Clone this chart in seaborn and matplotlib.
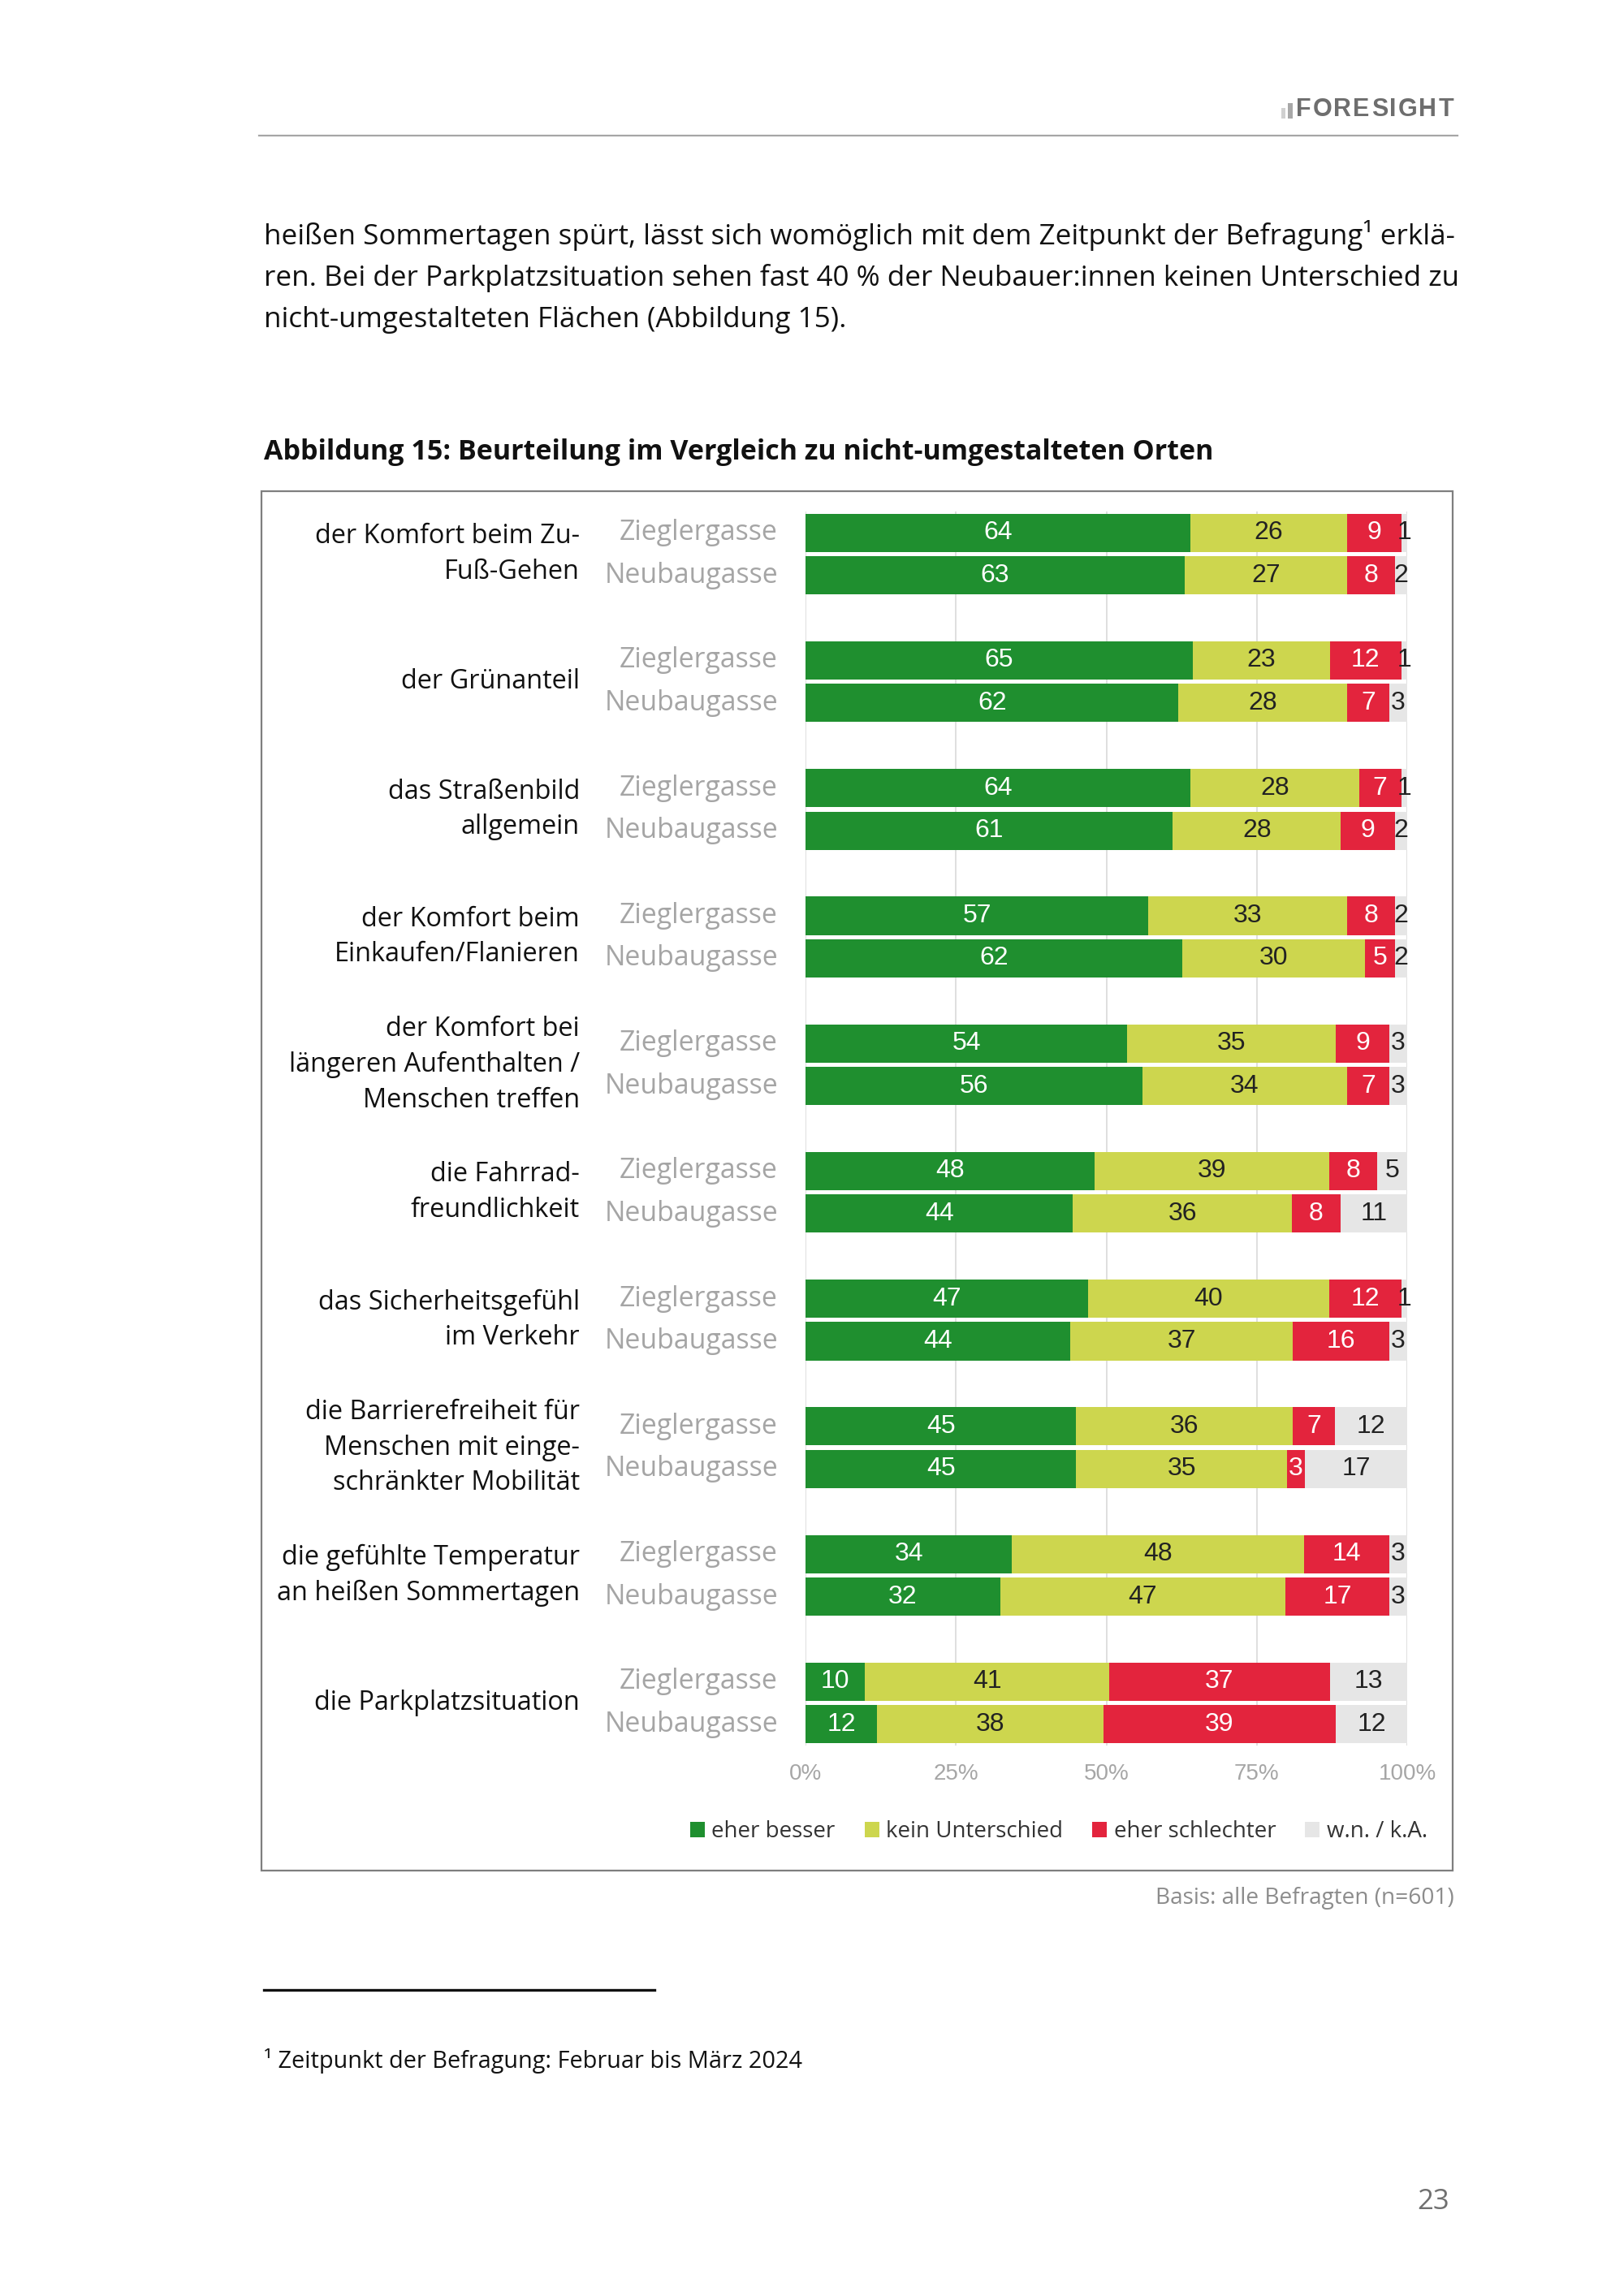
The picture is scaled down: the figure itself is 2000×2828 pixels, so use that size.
"""Abbildung 15: Beurteilung im Vergleich zu nicht-umgestalteten Orten"""
import matplotlib
matplotlib.use("Agg")
import matplotlib.pyplot as plt
import matplotlib.transforms as mtransforms
from matplotlib.patches import Patch, Rectangle
from matplotlib.lines import Line2D
import pandas as pd
import seaborn as sns

categories = [
    "der Komfort beim Zu-\nFuß-Gehen",
    "der Grünanteil",
    "das Straßenbild\nallgemein",
    "der Komfort beim\nEinkaufen/Flanieren",
    "der Komfort bei\nlängeren Aufenthalten /\nMenschen treffen",
    "die Fahrrad-\nfreundlichkeit",
    "das Sicherheitsgefühl\nim Verkehr",
    "die Barrierefreiheit für\nMenschen mit einge-\nschränkter Mobilität",
    "die gefühlte Temperatur\nan heißen Sommertagen",
    "die Parkplatzsituation",
]
streets = ["Zieglergasse", "Neubaugasse"]
answers = ["eher besser", "kein Unterschied", "eher schlechter", "w.n. / k.A."]

besser_z = [64, 65, 64, 57, 54, 48, 47, 45, 34, 10]
besser_n = [63, 62, 61, 62, 56, 44, 44, 45, 32, 12]
kein_z = [26, 23, 28, 33, 35, 39, 40, 36, 48, 41]
kein_n = [27, 28, 28, 30, 34, 36, 37, 35, 47, 38]
schlechter_z = [9, 12, 7, 8, 9, 8, 12, 7, 14, 37]
schlechter_n = [8, 7, 9, 5, 7, 8, 16, 3, 17, 39]
wnka_z = [1, 1, 1, 2, 3, 5, 1, 12, 3, 13]
wnka_n = [2, 3, 2, 2, 3, 11, 3, 17, 3, 12]

x_ticks = [0, 25, 50, 75, 100]
x_tick_labels = ["0%", "25%", "50%", "75%", "100%"]

colors = ["#1f8f2f", "#cdd64e", "#e3243d", "#e6e6e6"]
text_colors = ["white", "#222222", "white", "#222222"]

# long table: one row per bar, ypos = 3 slots per group (2 bars + gap)
rows = []
series = {
    "Zieglergasse": [besser_z, kein_z, schlechter_z, wnka_z],
    "Neubaugasse": [besser_n, kein_n, schlechter_n, wnka_n],
}
for g, cat in enumerate(categories):
    for r, street in enumerate(streets):
        vals = [s[g] for s in series[street]]
        total = sum(vals)
        row = {"ypos": g * 3 + r, "street": street, "category": cat}
        right = 0
        for k, v in enumerate(vals):
            share = v * 100 / total
            row[f"val{k}"] = v
            row[f"left{k}"] = right
            right += share
            row[f"right{k}"] = right
        rows.append(row)
df = pd.DataFrame(rows)

plt.rcParams["font.family"] = ["Open Sans", "DejaVu Sans"]
W, H = 2000, 2828
fig = plt.figure(figsize=(10, 14.14), dpi=200)
fig.patch.set_facecolor("white")


def fx(px):
    return px / W


def fy(py):
    return 1 - py / H


ax = fig.add_axes([fx(992), fy(2150), fx(1733) - fx(992), fy(630) - fy(2150)])

for k in reversed(range(4)):
    sns.barplot(data=df, x=f"right{k}", y="ypos", orient="h", native_scale=True,
                color=colors[k], saturation=1, width=0.9, errorbar=None,
                linewidth=0, ax=ax)

ax.set_xlim(0, 100)
ax.set_ylim(28.5, -0.5)
ax.set_xlabel("")
ax.set_ylabel("")
ax.set_yticks([])
ax.set_xticks(x_ticks, x_tick_labels)
ax.tick_params(axis="x", length=0, pad=8, labelsize=10, labelcolor="#a6a6a6")
for lab in ax.get_xticklabels():
    lab.set_family("Liberation Sans")
ax.xaxis.grid(True, color="#d9d9d9", lw=0.6)
ax.set_axisbelow(True)
for s in ax.spines.values():
    s.set_visible(False)

# value labels in the segments
for _, row in df.iterrows():
    for k in range(4):
        cx = (row[f"left{k}"] + row[f"right{k}"]) / 2
        ax.text(cx, row["ypos"], str(row[f"val{k}"]), ha="center", va="center",
                color=text_colors[k], fontsize=11.5, family="Liberation Sans")

# left labels
trans = mtransforms.blended_transform_factory(fig.transFigure, ax.transData)
for g, cat in enumerate(categories):
    ax.text(fx(714), g * 3 + 0.5, cat, transform=trans, ha="right", va="center",
            fontsize=11.7, color="#111111", linespacing=1.42, clip_on=False)
    for r, street in enumerate(streets):
        ax.text(fx(958), g * 3 + r, street, transform=trans, ha="right",
                va="center", fontsize=12.2, color="#a5a5a5", clip_on=False)

# legend
handles = [Patch(facecolor=c, edgecolor="none", label=a) for c, a in zip(colors, answers)]
fig.legend(handles=handles, loc="center", bbox_to_anchor=(fx(1304), fy(2256)), ncol=4,
           frameon=False, handlelength=0.65, handleheight=0.65, handletextpad=0.3,
           columnspacing=1.3, fontsize=10, labelcolor="#333333")

# chart frame
fig.patches.append(Rectangle((fx(322), fy(2304)), fx(1789) - fx(322), fy(605) - fy(2304),
                             transform=fig.transFigure, fill=False,
                             edgecolor="#7f7f7f", lw=0.8))

# page header: letter-spaced logo text
renderer = fig.canvas.get_renderer()
logo = []
for ch in "FORESIGHT":
    t = fig.text(0, fy(135), ch, ha="left", va="center", fontsize=11,
                 fontweight="bold", color="#6e6e6e", family="Liberation Sans")
    logo.append((t, t.get_window_extent(renderer).width))
gap = (1790 - 1596 - sum(w for _, w in logo)) / (len(logo) - 1)
xpos = 1596
for t, w in logo:
    t.set_x(fx(xpos))
    xpos += w + gap
fig.patches.append(Rectangle((fx(1578), fy(146)), fx(5), fy(133) - fy(146),
                             transform=fig.transFigure, color="#d0d0d0", lw=0))
fig.patches.append(Rectangle((fx(1586), fy(146)), fx(6), fy(127) - fy(146),
                             transform=fig.transFigure, color="#a8a8a8", lw=0))
fig.lines.append(Line2D([fx(319), fx(1795)], [fy(167), fy(167)],
                        transform=fig.transFigure, color="#a6a6a6", lw=0.8))

# body text
para = [
    "heißen Sommertagen spürt, lässt sich womöglich mit dem Zeitpunkt der Befragung¹ erklä-",
    "ren. Bei der Parkplatzsituation sehen fast 40 % der Neubauer:innen keinen Unterschied zu",
    "nicht-umgestalteten Flächen (Abbildung 15).",
]
for i, line in enumerate(para):
    fig.text(fx(325), fy(290 + 52 * i), line, ha="left", va="center",
             fontsize=12.6, color="#111111")

fig.text(fx(325), fy(557), "Abbildung 15: Beurteilung im Vergleich zu nicht-umgestalteten Orten",
         ha="left", va="center", fontsize=12.25, fontweight="bold", color="#111111")

fig.text(fx(1791), fy(2338), "Basis: alle Befragten (n=601)", ha="right", va="center",
         fontsize=10.1, color="#8c8c8c")

# footnote
fig.lines.append(Line2D([fx(325), fx(806)], [fy(2451), fy(2451)],
                        transform=fig.transFigure, color="#111111", lw=1.2))
fig.text(fx(325), fy(2538), "¹ Zeitpunkt der Befragung: Februar bis März 2024", ha="left",
         va="center", fontsize=10.4, color="#111111")
fig.text(fx(1785), fy(2712), "23", ha="right", va="center", fontsize=12.5,
         color="#707070")

fig.savefig("out.png", dpi=200, facecolor="white")
